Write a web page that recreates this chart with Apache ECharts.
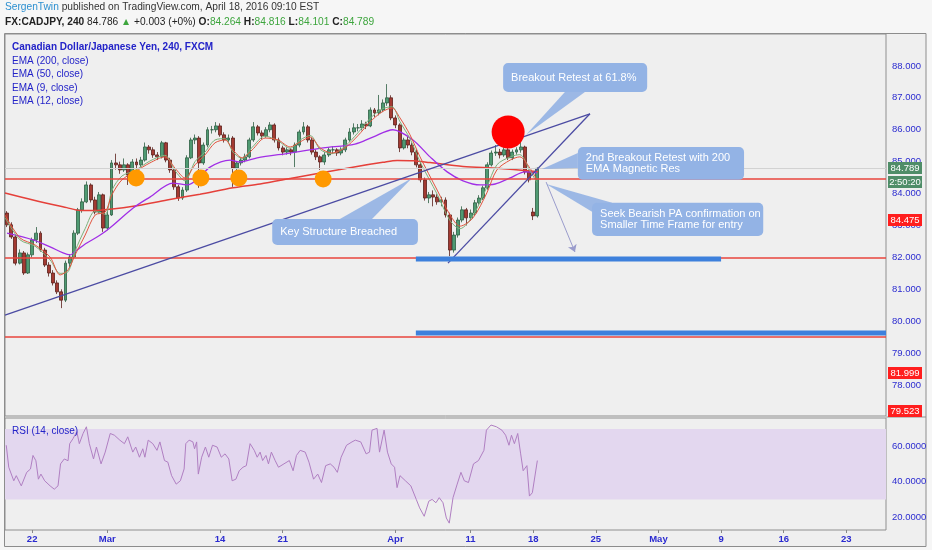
<!DOCTYPE html>
<html><head><meta charset="utf-8">
<script src="https://cdn.jsdelivr.net/npm/echarts@6/dist/echarts.min.js"></script>
<style>html,body{margin:0;padding:0;background:#f6f6f6;}#c{width:932px;height:550px;}</style>
</head><body><div id="c"></div>
<script>
// ---- categories (8h sessions per trading day) ----
const tradingDays = ["2016-02-18","2016-02-19","2016-02-22","2016-02-23","2016-02-24","2016-02-25","2016-02-26","2016-02-29",
"2016-03-01","2016-03-02","2016-03-03","2016-03-04","2016-03-07","2016-03-08","2016-03-09","2016-03-10","2016-03-11",
"2016-03-14","2016-03-15","2016-03-16","2016-03-17","2016-03-18","2016-03-21","2016-03-22","2016-03-23","2016-03-24","2016-03-25",
"2016-03-28","2016-03-29","2016-03-30","2016-03-31","2016-04-01","2016-04-04","2016-04-05","2016-04-06","2016-04-07","2016-04-08",
"2016-04-11","2016-04-12","2016-04-13","2016-04-14","2016-04-15","2016-04-18","2016-04-19","2016-04-20","2016-04-21","2016-04-22",
"2016-04-25","2016-04-26","2016-04-27","2016-04-28","2016-04-29","2016-05-02","2016-05-03","2016-05-04","2016-05-05","2016-05-06",
"2016-05-09","2016-05-10","2016-05-11","2016-05-12","2016-05-13","2016-05-16","2016-05-17","2016-05-18","2016-05-19","2016-05-20",
"2016-05-23","2016-05-24","2016-05-25","2016-05-26"];
const sessions = ["01:00","09:00","17:00"];
const slotCount = 211;
const tickLabels = {"2016-02-22":"22","2016-03-01":"Mar","2016-03-14":"14","2016-03-21":"21","2016-04-01":"Apr","2016-04-11":"11",
"2016-04-18":"18","2016-04-25":"25","2016-05-02":"May","2016-05-09":"9","2016-05-16":"16","2016-05-23":"23"};
const priceTicks = [78,79,80,81,82,83,84,85,86,87,88];
const rsiTicks = [20,40,60];

// ---- candles ----
const opens = [83.39,83.02,82.64,81.82,82.14,81.51,82.08,82.55,82.76,82.23,
81.76,81.51,81.20,80.92,80.66,81.82,82.01,82.76,83.49,83.74,
84.27,83.80,83.42,83.96,82.92,83.33,84.96,84.90,84.74,84.90,
84.58,84.99,84.90,85.05,85.46,85.37,85.21,85.15,85.59,85.05,
84.74,84.21,83.86,84.11,85.12,85.68,85.74,84.96,85.52,86.00,
86.00,86.12,85.84,85.68,85.74,84.80,84.96,85.05,85.15,85.68,
86.09,85.90,85.81,86.00,86.15,85.68,85.43,85.30,85.37,85.30,
85.52,85.93,86.09,85.68,85.30,85.15,84.99,85.21,85.37,85.37,
85.27,85.37,85.68,85.93,86.06,86.06,86.18,86.12,86.62,86.53,
86.62,86.84,87.00,86.37,86.15,85.43,85.68,85.52,85.30,84.90,
84.43,83.86,83.96,83.89,83.74,83.80,83.33,82.23,82.70,83.17,
83.49,83.24,83.39,83.71,83.86,84.18,84.90,85.27,85.30,85.21,
85.37,85.12,85.30,85.37,85.46,84.68,83.42,83.30];
const closes = [83.02,82.64,81.82,82.14,81.51,82.08,82.55,82.76,82.23,81.76,
81.51,81.20,80.92,80.66,81.82,82.01,82.76,83.49,83.74,84.27,
83.80,83.42,83.96,82.92,83.33,84.96,84.90,84.74,84.90,84.58,
84.99,84.90,85.05,85.46,85.37,85.21,85.15,85.59,85.05,84.74,
84.21,83.86,84.11,85.12,85.68,85.74,84.96,85.52,86.00,86.00,
86.12,85.84,85.68,85.74,84.80,84.96,85.05,85.15,85.68,86.09,
85.90,85.81,86.00,86.15,85.68,85.43,85.30,85.37,85.30,85.52,
85.93,86.09,85.68,85.30,85.15,84.99,85.21,85.37,85.37,85.27,
85.37,85.68,85.93,86.06,86.06,86.18,86.12,86.62,86.53,86.62,
86.84,87.00,86.37,86.15,85.43,85.68,85.52,85.30,84.90,84.43,
83.86,83.96,83.89,83.74,83.80,83.33,82.23,82.70,83.17,83.49,
83.24,83.39,83.71,83.86,84.18,84.90,85.27,85.30,85.21,85.37,
85.12,85.30,85.37,85.46,84.68,84.43,83.30,84.79];
const lows = [82.95,82.58,81.75,81.78,81.45,81.48,82.00,82.45,82.18,81.70,
81.40,81.12,80.85,80.41,80.60,81.70,81.95,82.70,83.40,83.70,
83.72,83.35,83.38,82.80,82.85,83.30,84.75,84.62,84.68,84.27,
84.50,84.70,84.82,85.00,85.25,85.12,85.05,85.10,84.98,84.65,
84.12,83.77,83.80,84.05,85.08,85.55,84.18,84.90,85.45,85.88,
85.92,85.78,85.60,85.58,84.21,84.60,84.88,84.98,85.10,85.62,
85.82,85.70,85.75,85.92,85.60,85.35,85.20,85.22,85.20,84.83,
85.45,85.85,85.60,85.22,85.05,84.74,84.90,85.15,85.25,85.18,
85.20,85.30,85.62,85.85,85.95,85.98,86.02,86.08,86.40,86.45,
86.55,86.75,86.30,86.05,85.30,85.38,85.42,85.20,84.82,84.35,
83.78,83.70,83.60,83.65,83.60,83.25,82.04,82.15,82.62,83.10,
83.00,83.15,83.30,83.65,83.80,84.12,84.85,85.18,85.10,85.15,
85.05,85.05,85.22,85.28,84.60,84.35,83.17,83.25];
const highs = [83.45,83.10,82.70,82.25,82.20,82.15,82.62,82.95,82.82,82.30,
81.85,81.60,81.28,81.00,81.90,82.10,82.85,83.55,83.85,84.38,
84.32,83.90,84.05,84.00,83.45,85.05,85.25,85.00,85.10,84.95,
85.08,85.10,85.15,85.60,85.52,85.45,85.30,85.65,85.62,85.12,
84.80,84.28,84.20,85.20,85.75,85.85,85.80,85.60,86.08,86.12,
86.24,86.20,85.92,85.85,85.80,85.02,85.12,85.25,85.75,86.24,
86.15,85.98,86.08,86.24,86.20,85.75,85.50,85.45,85.42,85.60,
86.00,86.24,86.15,85.75,85.38,85.20,85.30,85.45,85.48,85.42,
85.45,85.75,86.05,86.20,86.18,86.30,86.25,86.70,86.68,87.09,
86.95,87.43,87.08,86.45,86.20,85.75,85.78,85.60,85.38,84.98,
84.50,84.05,84.10,83.98,83.90,83.88,83.40,82.80,83.25,83.60,
83.55,83.50,83.80,83.95,84.25,84.98,85.35,85.52,85.40,85.45,
85.45,85.38,85.45,85.62,85.50,84.75,83.55,84.82];

// ---- moving averages: [bar position, price] ----
const ema200 = [[-0.5,84.02],[6.2,83.80],[14.3,83.56],[17.5,83.47],[22.3,83.48],[30.2,83.60],[38.3,83.80],[46.2,83.98],
[54.1,84.18],[60.6,84.30],[67.8,84.47],[75.7,84.66],[83.8,84.85],[90.0,84.98],[93.4,85.04],[97.4,85.03],[101.3,84.97],
[109.2,84.85],[117.3,84.79],[125.2,84.71],[127.2,84.68]];
const ema50 = [[0,82.76],[6.2,82.55],[10.3,82.33],[13.4,82.14],[15.1,82.08],[16.7,82.23],[19.1,82.45],[22.3,82.70],[24.6,82.92],
[30.2,83.55],[34.2,83.89],[39.7,84.33],[43.1,84.27],[45.5,84.43],[48.6,84.83],[53.4,85.05],[55.8,84.99],[59.9,85.12],
[67.8,85.27],[75.7,85.43],[83.3,85.55],[87.6,85.77],[92.4,86.00],[97.2,85.68],[101.3,85.15],[105.4,84.68],[109.2,84.40],
[113.3,84.27],[116.9,84.30],[120.5,84.49],[124.0,84.68],[126.9,84.65]];
const ema12 = [[-0.5,83.33],[3.1,82.61],[6.7,82.39],[10.3,82.01],[12.7,81.45],[14.6,81.61],[16.3,82.08],[18.7,82.70],[21.1,83.33],
[23.5,83.42],[25.1,83.96],[27.5,84.43],[30.6,84.68],[34.2,84.96],[37.8,85.15],[40.2,84.80],[42.6,84.49],[45.0,84.90],
[47.4,85.21],[49.8,85.59],[52.2,85.68],[54.1,85.37],[56.3,85.12],[58.7,85.37],[61.8,85.74],[64.9,85.68],[67.8,85.46],
[70.2,85.62],[72.6,85.77],[75.0,85.43],[77.8,85.27],[80.9,85.43],[84.0,85.81],[86.9,86.24],[89.8,86.56],[92.2,86.68],
[94.1,86.37],[96.5,85.84],[98.9,85.15],[103.0,84.11],[106.1,83.33],[108.5,82.98],[111.6,83.24],[114.9,84.02],[117.3,84.74],
[120.5,85.05],[122.8,85.15],[125.2,84.80],[126.9,84.43]];
const ema9 = [[-0.5,83.25],[3.1,82.55],[6.7,82.35],[10.3,81.92],[12.7,81.50],[14.6,81.55],[16.3,82.20],[18.7,82.90],[21.1,83.45],
[23.5,83.35],[25.1,84.10],[27.5,84.55],[30.6,84.72],[34.2,85.02],[37.8,85.20],[40.2,84.72],[42.6,84.40],[45.0,85.00],
[47.4,85.30],[49.8,85.68],[52.2,85.72],[54.1,85.30],[56.3,85.10],[58.7,85.45],[61.8,85.80],[64.9,85.65],[67.8,85.42],
[70.2,85.68],[72.6,85.82],[75.0,85.38],[77.8,85.25],[80.9,85.48],[84.0,85.90],[86.9,86.35],[89.8,86.65],[92.2,86.72],
[94.1,86.25],[96.5,85.72],[98.9,85.00],[103.0,83.98],[106.1,83.15],[108.5,82.90],[111.6,83.32],[114.9,84.20],[117.3,84.90],
[120.5,85.15],[122.8,85.22],[125.2,84.72],[126.9,84.35]];

// ---- RSI(14) ----
const rsiT = [-0.2,0.4,1.6,2.2,3.4,4.7,5.6,6.2,6.9,7.5,8.1,9.0,10.3,11.3,12.2,12.8,13.7,14.6,15.0,15.8,
16.7,17.3,18.2,19.0,19.7,20.7,21.4,22.5,23.5,24.7,25.7,27.0,28.1,28.9,30.1,30.8,31.7,32.5,33.0,33.8,
34.9,35.9,36.6,37.7,38.5,39.4,40.5,41.5,42.4,42.8,43.6,44.5,44.9,45.4,45.8,46.6,47.5,48.3,49.2,50.3,
51.3,52.2,53.1,53.9,54.8,55.6,56.5,57.3,58.2,59.2,59.9,60.6,61.2,62.0,62.6,63.3,64.2,65.0,66.3,67.6,
68.5,69.3,70.2,71.4,72.3,73.4,74.4,75.3,76.3,77.4,78.3,79.1,80.0,81.3,82.6,83.4,84.7,86.0,86.8,87.4,
88.6,89.2,90.3,91.1,92.0,92.8,93.4,94.1,95.4,96.7,98.0,98.8,99.9,101.0,101.8,102.7,103.5,104.4,105.2,105.9,
106.8,107.8,108.7,109.5,110.5,111.7,112.9,114.2,114.8,115.9,117.2,118.5,119.4,120.2,120.8,121.5,122.3,123.0,123.6,124.5,
125.1,125.8,127.0];
const rsiV = [60.8,48.3,40.6,43.5,37.7,45.4,47.3,55.0,52.0,41.5,44.4,40.6,37.7,35.8,37.7,50.2,53.0,52.0,61.7,64.6,
68.5,61.7,67.5,71.3,61.7,53.0,59.8,50.2,56.9,67.5,66.5,63.7,61.7,65.6,56.9,59.8,54.0,58.8,54.0,63.7,
61.7,57.9,62.7,52.1,51.2,43.5,38.7,40.6,47.3,61.7,63.7,62.7,58.8,62.7,44.4,54.0,59.8,54.0,60.8,59.8,
54.0,55.9,53.0,40.6,41.5,46.3,48.3,49.2,61.7,57.9,54.0,56.9,52.1,55.0,50.2,56.9,52.1,48.3,50.2,52.1,
46.3,55.0,57.9,56.9,51.2,41.5,44.4,39.6,49.2,50.2,48.3,45.4,54.0,60.8,62.7,63.7,62.7,55.9,56.9,69.4,
70.4,56.9,69.4,56.9,50.2,48.3,36.7,43.5,40.6,37.7,30.0,25.2,20.4,29.0,30.0,28.1,31.0,28.1,19.4,16.5,
31.0,38.7,45.4,40.6,39.6,50.2,52.1,57.9,69.4,72.3,71.3,69.4,66.5,60.8,66.5,61.7,67.5,55.9,46.3,49.2,
31.9,33.8,52.1];

// ---- drawings ----
const levels = [84.475, 81.999, 79.523];
const lastPrice = 84.789;
const trendA = [[-0.5,80.19],[139.6,86.50]];
const trendB = [[105.6,81.82],[139.6,86.50]];
const zoneA = [[97.9,81.95],[171.0,81.95]];
const zoneB = [[97.9,79.63],[210.5,79.63]];
const orangeDots = [[30.9,84.49],[46.4,84.49],[55.5,84.49],[75.7,84.46]];
const redDot = [[120.0,85.93]];
const arrowLine = [[129.1,84.36],[136.0,82.17]];
const callouts = [
 {text:'Breakout Retest at 61.8%', box:[[118.8,88.09],[153.3,87.18]], tail:[[133.6,87.18],[138.4,87.18],[124.3,85.84]]},
 {text:'2nd Breakout Retest with 200\nEMA Magnetic Res', box:[[136.7,85.46],[176.5,84.43]], tail:[[136.7,85.27],[136.7,84.80],[128.1,84.77]]},
 {text:'Seek Bearish PA confirmation on\nSmaller Time Frame for entry', box:[[140.1,83.71],[181.1,82.67]], tail:[[140.1,83.43],[144.9,83.71],[129.1,84.30]]},
 {text:'Key Structure Breached', box:[[63.5,83.20],[98.4,82.39]], tail:[[79.7,83.20],[87.4,83.20],[97.0,84.49]]}
];

const FONT = '"Liberation Sans", Arial, sans-serif';
const BLUE = '#2b2bd0';
const categories = [];
tradingDays.forEach(d => sessions.forEach(s => categories.push(d + ' ' + s)));
categories.length = slotCount;
const candleData = opens.map((o, i) => [o, closes[i], lows[i], highs[i]]);
const rsiData = rsiT.map((t, i) => [t, rsiV[i]]);
const isTick = (idx) => { const c = categories[idx]; return c.slice(11) === '01:00' && tickLabels[c.slice(0,10)] !== undefined; };
const valX = (gi) => ({type:'value', gridIndex:gi, min:-0.5, max:slotCount-0.5, show:false});

const chart = echarts.init(document.getElementById('c'));
chart.setOption({
  animation:false,
  backgroundColor:'transparent',
  grid:[
    {left:5, top:34, width:881, height:382, show:true, borderColor:'#8f8f8f', borderWidth:1, backgroundColor:'transparent'},
    {left:5, top:418, width:881, height:112, show:true, borderColor:'#8f8f8f', borderWidth:1, backgroundColor:'transparent'}
  ],
  xAxis:[
    {type:'category', gridIndex:0, data:categories, boundaryGap:true, show:false},
    valX(0),
    {type:'category', gridIndex:1, data:categories, boundaryGap:true,
     axisLine:{show:false}, splitLine:{show:false},
     axisTick:{show:true, interval:(i)=>isTick(i), alignWithLabel:true, length:3, lineStyle:{color:'#888'}},
     axisLabel:{interval:(i)=>isTick(i), formatter:(v)=>tickLabels[v.slice(0,10)] || '', color:BLUE, fontSize:9.5, fontWeight:'bold', margin:4, fontFamily:FONT}},
    valX(1)
  ],
  yAxis:[
    {type:'value', gridIndex:0, position:'right', min:77.03, max:89.0, splitLine:{show:false}, axisLine:{show:false}, axisTick:{show:false},
     axisLabel:{customValues:priceTicks, formatter:(v)=>v.toFixed(3), color:BLUE, fontSize:9.5, margin:6, fontFamily:FONT}},
    {type:'value', gridIndex:1, position:'right', min:12.6, max:76.3, splitLine:{show:false}, axisLine:{show:false}, axisTick:{show:false},
     axisLabel:{customValues:rsiTicks, formatter:(v)=>v.toFixed(4), color:BLUE, fontSize:9.5, margin:6, fontFamily:FONT}}
  ],
  series:[
    {type:'candlestick', xAxisIndex:0, yAxisIndex:0, data:candleData, barWidth:3.4, z:3,
     itemStyle:{color:'#4f9a72', color0:'#a33a32', borderColor:'#2d5e43', borderColor0:'#5a1f1b', borderWidth:0.8},
     markLine:{silent:true, symbol:'none', label:{show:false}, animation:false,
       data:[{yAxis:lastPrice, lineStyle:{color:'#d2d2d2', width:1, type:'solid'}}]
         .concat(levels.map(v => ({yAxis:v, lineStyle:{color:'#e8453c', width:1.5, type:'solid'}})))}},
    {type:'line', name:'EMA200', xAxisIndex:1, yAxisIndex:0, data:ema200, smooth:0.3, showSymbol:false, lineStyle:{color:'#e5403a', width:1.5}, z:4},
    {type:'line', name:'EMA50', xAxisIndex:1, yAxisIndex:0, data:ema50, smooth:0.3, showSymbol:false, lineStyle:{color:'#a12ee6', width:1.3}, z:4},
    {type:'line', name:'EMA9', xAxisIndex:1, yAxisIndex:0, data:ema9, smooth:0.3, showSymbol:false, lineStyle:{color:'#7db07a', width:1}, z:4},
    {type:'line', name:'EMA12', xAxisIndex:1, yAxisIndex:0, data:ema12, smooth:0.3, showSymbol:false, lineStyle:{color:'#e2553f', width:1}, z:4},
    {type:'line', xAxisIndex:1, yAxisIndex:0, data:trendA, showSymbol:false, lineStyle:{color:'#4b4ba3', width:1.3}, z:5},
    {type:'line', xAxisIndex:1, yAxisIndex:0, data:trendB, showSymbol:false, lineStyle:{color:'#4b4ba3', width:1.3}, z:5},
    {type:'line', xAxisIndex:1, yAxisIndex:0, data:zoneA, showSymbol:false, lineStyle:{color:'#3d80dc', width:5}, z:5},
    {type:'line', xAxisIndex:1, yAxisIndex:0, data:zoneB, showSymbol:false, lineStyle:{color:'#3d80dc', width:5}, z:5},
    {type:'scatter', xAxisIndex:1, yAxisIndex:0, data:orangeDots, symbolSize:17, itemStyle:{color:'#ff9900', opacity:1}, z:6},
    {type:'scatter', xAxisIndex:1, yAxisIndex:0, data:redDot, symbolSize:33, itemStyle:{color:'#ff0000', opacity:1}, z:6},
    {type:'lines', coordinateSystem:'cartesian2d', xAxisIndex:1, yAxisIndex:0, data:[{coords:arrowLine}],
     symbol:['none','arrow'], symbolSize:7, lineStyle:{color:'#9a9ccc', width:1, opacity:1}, z:6},
    {type:'line', name:'RSI', xAxisIndex:3, yAxisIndex:1, data:rsiData, showSymbol:false, lineStyle:{color:'#b07fc2', width:1}, z:4,
     markArea:{silent:true, itemStyle:{color:'#e3d7ef'}, data:[[{yAxis:30},{yAxis:70}]]}}
  ]
});

// ---- static decorations and callouts ----
const toPx = (p) => chart.convertToPixel({xAxisIndex:1, yAxisIndex:0}, p);
const els = [
  {type:'rect', shape:{x:4.5, y:33.5, width:921.5, height:513}, style:{fill:'#efefef', stroke:'#8c8c8c', lineWidth:1}, z:-100},
  {type:'line', shape:{x1:886, y1:417, x2:926, y2:417}, style:{stroke:'#8f8f8f', lineWidth:1}, z:10},
  {type:'text', x:5, y:2.5, style:{text:'{a|SergenTwin} published on TradingView.com, April 18, 2016 09:10 EST', font:'10.2px '+FONT, fill:'#333',
     rich:{a:{fill:'#2b8fd0', font:'10.2px '+FONT}}}, z:20},
  {type:'text', x:5, y:17.5, style:{text:'{b|FX:CADJPY, 240} 84.786 {g|▲} +0.003 (+0%) {b|O:}{g|84.264} {b|H:}{g|84.816} {b|L:}{g|84.101} {b|C:}{g|84.789}',
     font:'10.2px '+FONT, fill:'#222', rich:{b:{font:'bold 10.2px '+FONT, fill:'#222'}, g:{font:'10.2px '+FONT, fill:'#3da53d'}}}, z:20},
  {type:'text', x:12, y:42.5, style:{text:'Canadian Dollar/Japanese Yen, 240, FXCM', font:'bold 10px '+FONT, fill:'#2323c8'}, z:20},
  {type:'text', x:12, y:56, style:{text:'EMA (200, close)', font:'10px '+FONT, fill:'#2323c8'}, z:20},
  {type:'text', x:12, y:69.5, style:{text:'EMA (50, close)', font:'10px '+FONT, fill:'#2323c8'}, z:20},
  {type:'text', x:12, y:83, style:{text:'EMA (9, close)', font:'10px '+FONT, fill:'#2323c8'}, z:20},
  {type:'text', x:12, y:96.5, style:{text:'EMA (12, close)', font:'10px '+FONT, fill:'#2323c8'}, z:20},
  {type:'text', x:12, y:426, style:{text:'RSI (14, close)', font:'10px '+FONT, fill:'#2323c8'}, z:20}
];
const priceBoxes = [
  {y:162, text:'84.789', fill:'#4f8d68'},
  {y:176, text:'2:50:20', fill:'#4f8d68'},
  {y:214, text:'84.475', fill:'#ff1e1e'},
  {y:367, text:'81.999', fill:'#ff1e1e'},
  {y:405, text:'79.523', fill:'#ff1e1e'}
];
priceBoxes.forEach(b => {
  els.push({type:'rect', shape:{x:888, y:b.y, width:34, height:12}, style:{fill:b.fill}, z:30});
  els.push({type:'text', x:905, y:b.y+6, style:{text:b.text, fill:'#fff', font:'9.5px '+FONT, textAlign:'center', textVerticalAlign:'middle', align:'center', verticalAlign:'middle'}, z:31});
});
callouts.forEach(c => {
  const a = toPx(c.box[0]), b = toPx(c.box[1]);
  const t = c.tail.map(toPx);
  els.push({type:'polygon', shape:{points:t}, style:{fill:'rgba(128,166,226,0.75)'}, z:50});
  els.push({type:'rect', shape:{x:a[0], y:a[1], width:b[0]-a[0], height:b[1]-a[1], r:5}, style:{fill:'#93b3e5'}, z:51});
  els.push({type:'text', x:a[0]+8, y:(a[1]+b[1])/2, style:{text:c.text, fill:'#ffffff', font:'11px '+FONT, lineHeight:11,
    textVerticalAlign:'middle', verticalAlign:'middle'}, z:52});
});
chart.setOption({graphic:{elements:els}});
</script>
</body></html>
